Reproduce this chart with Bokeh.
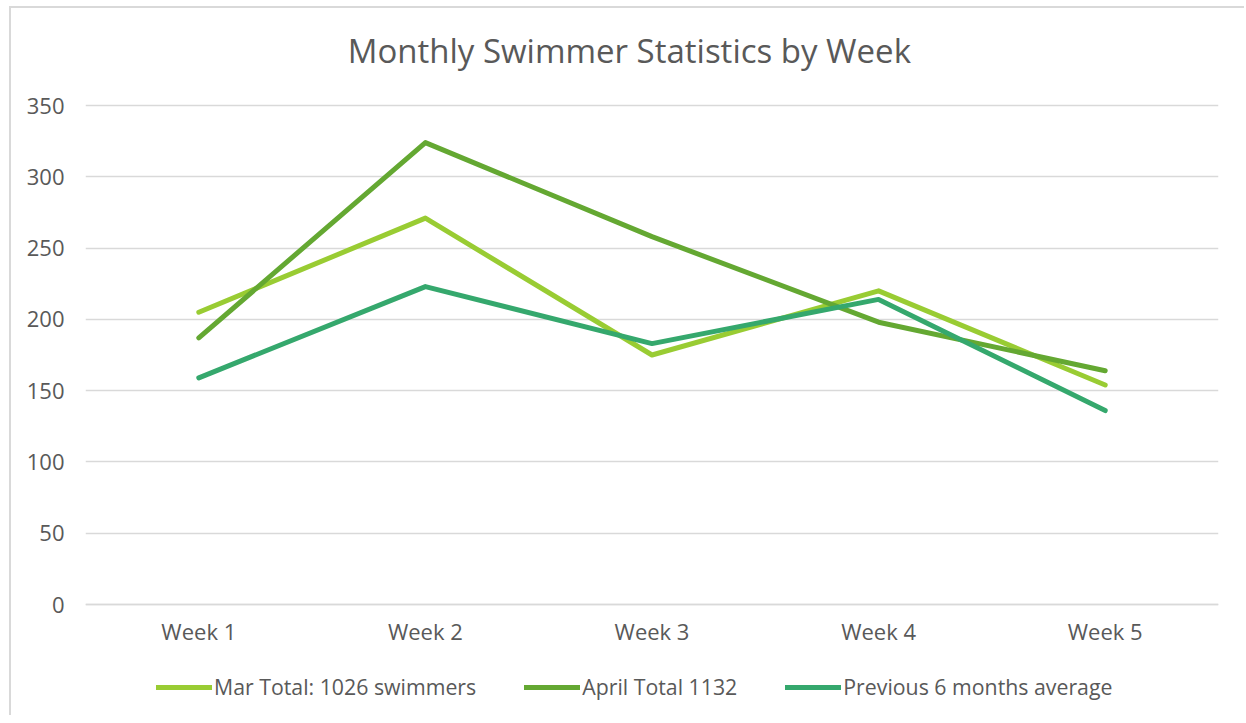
from bokeh.plotting import figure
from bokeh.models import Legend, LegendItem, FactorRange, Range1d, Label
from bokeh.embed import file_html
from bokeh.resources import INLINE

weeks = ["Week 1", "Week 2", "Week 3", "Week 4", "Week 5"]
mar_total = [205, 271, 175, 220, 154]
april_total = [187, 324, 258, 198, 164]
prev_avg = [159, 223, 183, 214, 136]
series_names = ["Mar Total: 1026 swimmers", "April Total 1132", "Previous 6 months average"]
colors = ["#99CC33", "#64A832", "#35A86D"]
yticks = [0, 50, 100, 150, 200, 250, 300, 350]
title_text = "Monthly Swimmer Statistics by Week"

FONT = "Open Sans"
TXT = "#595959"

H = 709            # canvas height
TOP = 97           # pixel room above the 350 line (title area)
PLOT_PX = 499      # pixel height of 0..350
YMAX = 350
upp = YMAX / PLOT_PX                      # data units per pixel
y_hi = YMAX + TOP * upp
y_lo = -(H - TOP - PLOT_PX) * upp         # room below 0 for labels and legend

p = figure(width=1235, height=H, x_range=FactorRange(*weeks, range_padding=0),
           y_range=Range1d(y_lo, y_hi), output_backend="svg", toolbar_location=None,
           min_border_left=74, min_border_right=28, min_border_top=0, min_border_bottom=0)
p.styles = {"border-left": "2px solid #d9d9d9", "border-top": "2px solid #d9d9d9",
            "margin-left": "9px", "margin-top": "6px"}
p.outline_line_color = None
p.background_fill_color = "white"
p.border_fill_color = "white"

# title, centred on the whole chart (synthetic categorical coordinate)
p.add_layout(Label(x=2.4, y=YMAX + 55 * upp, text=title_text, text_align="center",
                   text_baseline="alphabetic", text_font=FONT, text_font_size="33px",
                   text_color=TXT))

p.xgrid.grid_line_color = None
p.ygrid.grid_line_color = "#d9d9d9"
p.ygrid.grid_line_width = 1.5
p.ygrid.ticker = yticks
p.yaxis.ticker = yticks
p.yaxis.axis_line_color = None
p.yaxis.major_tick_line_color = None
p.yaxis.minor_tick_line_color = None
p.yaxis.major_label_text_font = FONT
p.yaxis.major_label_text_font_size = "22px"
p.yaxis.major_label_text_color = TXT
p.yaxis.major_label_standoff = 15

p.xaxis.fixed_location = 0
p.xaxis.axis_line_color = "#d9d9d9"
p.xaxis.axis_line_width = 1.5
p.xaxis.major_tick_line_color = None
p.xaxis.minor_tick_line_color = None
p.xaxis.major_label_text_font = FONT
p.xaxis.major_label_text_font_size = "22px"
p.xaxis.major_label_text_color = TXT
p.xaxis.major_label_standoff = 5

items = []
for name, vals, c in zip(series_names, [mar_total, april_total, prev_avg], colors):
    r = p.line(weeks, vals, line_color=c, line_width=5, line_cap="round", line_join="round")
    items.append(LegendItem(label=name, renderers=[r]))

legend = Legend(items=items, orientation="horizontal", location=(71, 16),
                glyph_width=56, glyph_height=20, label_standoff=2, spacing=48,
                label_text_font=FONT, label_text_font_size="21.3px", label_text_color=TXT,
                border_line_color=None, background_fill_alpha=0, padding=0, margin=0)
p.add_layout(legend, "center")

open("out.html", "w").write(file_html(p, INLINE))
